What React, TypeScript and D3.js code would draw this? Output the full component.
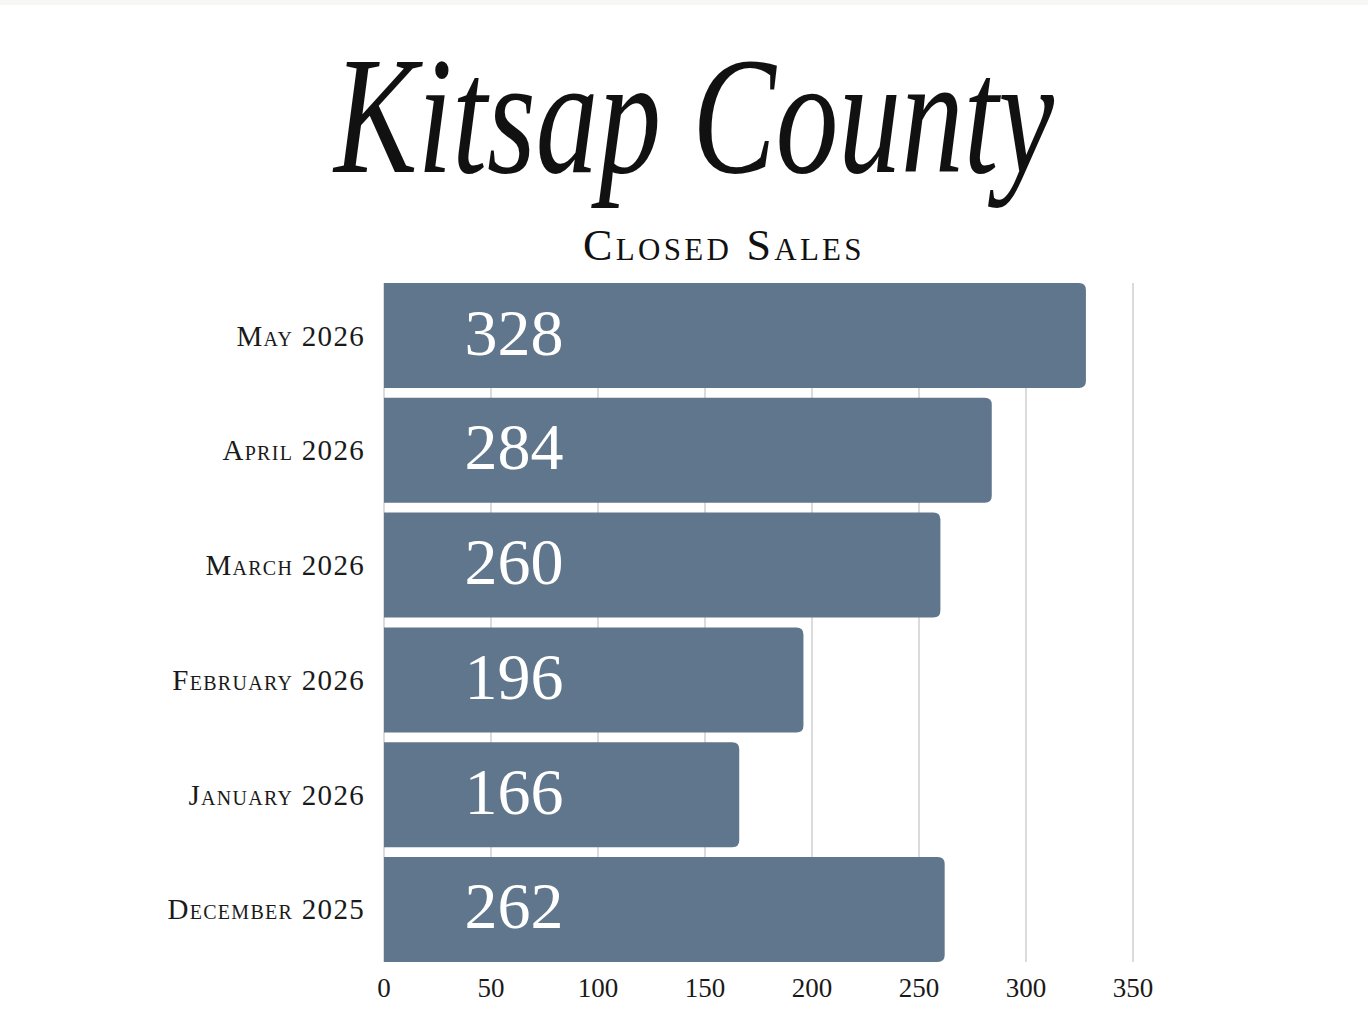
import React, { useEffect, useRef } from 'react';
import * as d3 from 'd3';

const months = ['May 2026', 'April 2026', 'March 2026', 'February 2026', 'January 2026', 'December 2025'];
const closedSales = [328, 284, 260, 196, 166, 262];
const xTicks = [0, 50, 100, 150, 200, 250, 300, 350];

const W = 1368;
const H = 1036;
const barColor = '#5f768c';
const serif = '"Liberation Serif", "DejaVu Serif", serif';

export default function App() {
  const svgRef = useRef<SVGSVGElement>(null);

  useEffect(() => {
    document.body.style.margin = '0';
    if (!svgRef.current) return;
    const svg = d3.select(svgRef.current);
    svg.selectAll('*').remove();

    const x = d3.scaleLinear().domain([0, 350]).range([384, 1133]);
    const y = d3.scaleBand<string>().domain(months).range([283, 962]).paddingInner(0.085).paddingOuter(0);

    svg.append('rect').attr('width', W).attr('height', H).attr('fill', '#fff');
    svg.append('rect').attr('width', W).attr('height', 5).attr('fill', '#f7f7f5');

    // title
    svg.append('text')
      .attr('x', W / 2 + 10)
      .attr('y', 172)
      .attr('text-anchor', 'middle')
      .attr('font-family', serif)
      .attr('font-style', 'italic')
      .attr('font-size', 168)
      .attr('textLength', 720)
      .attr('lengthAdjust', 'spacingAndGlyphs')
      .attr('fill', '#111')
      .text('Kitsap County');

    svg.append('text')
      .attr('x', 724)
      .attr('y', 260)
      .attr('text-anchor', 'middle')
      .attr('font-family', serif)
      .attr('font-variant', 'small-caps')
      .attr('font-size', 44)
      .attr('letter-spacing', 3.3)
      .attr('fill', '#111')
      .text('Closed Sales');

    // gridlines
    svg.append('g')
      .selectAll('line')
      .data(xTicks)
      .join('line')
      .attr('x1', d => x(d))
      .attr('x2', d => x(d))
      .attr('y1', y.range()[0])
      .attr('y2', y.range()[1])
      .attr('stroke', '#cfcfcf')
      .attr('stroke-width', 1.5);

    // bars with rounded right end
    const r = 7;
    svg.append('g')
      .selectAll('path')
      .data(months)
      .join('path')
      .attr('d', (m, i) => {
        const x0 = x(0);
        const x1 = x(closedSales[i]);
        const y0 = y(m)!;
        const y1 = y0 + y.bandwidth();
        return `M${x0},${y0}H${x1 - r}Q${x1},${y0} ${x1},${y0 + r}V${y1 - r}Q${x1},${y1} ${x1 - r},${y1}H${x0}Z`;
      })
      .attr('fill', barColor);

    // value labels
    svg.append('g')
      .selectAll('text')
      .data(months)
      .join('text')
      .attr('x', x(0) + 130)
      .attr('y', m => y(m)! + y.bandwidth() / 2 + 19)
      .attr('text-anchor', 'middle')
      .attr('font-family', serif)
      .attr('font-size', 66)
      .attr('fill', '#fff')
      .text((m, i) => String(closedSales[i]));

    // category labels
    svg.append('g')
      .selectAll('text')
      .data(months)
      .join('text')
      .attr('x', 365)
      .attr('y', m => y(m)! + y.bandwidth() / 2 + 10)
      .attr('text-anchor', 'end')
      .attr('font-family', serif)
      .attr('font-variant', 'small-caps')
      .attr('font-size', 29)
      .attr('letter-spacing', 1.3)
      .attr('fill', '#1a1a1a')
      .text(m => m);

    // x axis tick labels
    svg.append('g')
      .selectAll('text')
      .data(xTicks)
      .join('text')
      .attr('x', d => x(d))
      .attr('y', 997)
      .attr('text-anchor', 'middle')
      .attr('font-family', serif)
      .attr('font-size', 27)
      .attr('fill', '#1a1a1a')
      .text(d => String(d));
  }, []);

  return (
    <div style={{ position: 'absolute', left: 0, top: 0 }}>
      <svg ref={svgRef} width={W} height={H} />
    </div>
  );
}
